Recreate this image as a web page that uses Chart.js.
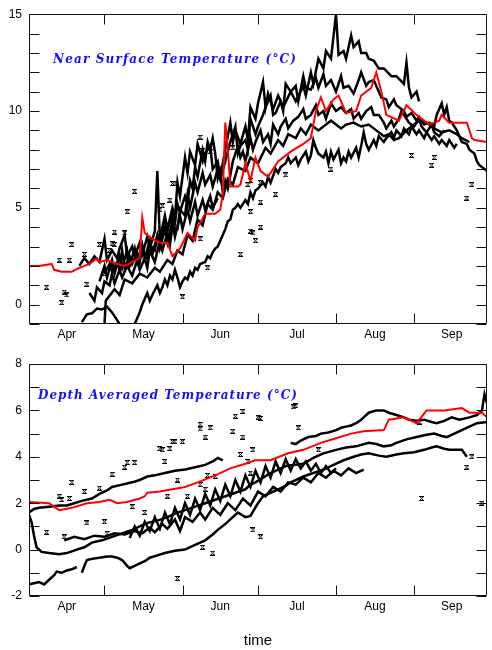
<!DOCTYPE html>
<html><head><meta charset="utf-8">
<script src="https://cdn.jsdelivr.net/npm/chart.js@4"></script>
<style>
html,body{margin:0;padding:0;background:#fff;}
#wrap{position:relative;width:492px;height:650px;overflow:hidden;}
canvas{position:absolute;left:0;}
#c1{top:0;}
#c2{top:345px;}
</style></head><body>
<div id="wrap"><canvas id="c1" width="492" height="345"></canvas><canvas id="c2" width="492" height="305"></canvas></div>
<script>
// ---- axis categories / ticks ----
const monthLabels = ['Apr','May','Jun','Jul','Aug','Sep'];
const monthMid = [15,45.5,76,106.5,137.5,168];      // day of season (0 = Apr 1)
const monthStart = [30,61,91,122,153];
const surfTicks = [0,5,10,15];
const depthTicks = [-2,0,2,4,6,8];

// ---- Near surface temperature: [day, degC] ----
const surfRed = [[0,2.0],[4,2.0],[9,2.1],[10,1.8],[13,1.7],[17,1.7],[20,1.9],[24,2.1],[27,2.4],[28,2.2],[31,2.3],[35,2.1],[38,2.0],[41,2.2],[44,2.4],[45,4.5],[46,3.7],[49,3.4],[52,3.2],[55,3.2],[57,2.5],[60,2.9],[63,3.7],[66,3.3],[67,4.0],[70,4.7],[74,4.7],[76,4.9],[77,5.7],[78,9.4],[79,8.1],[80,6.1],[83,6.1],[84,6.2],[86,7.3],[88,6.4],[90,7.6],[92,6.9],[95,6.6],[99,7.4],[104,7.9],[109,8.3],[112,8.6],[114,10.0],[116,10.7],[118,10.0],[121,10.6],[123,10.8],[126,9.9],[130,10.0],[132,10.8],[136,11.2],[138,12.0],[140,11.0],[142,9.8],[147,9.5],[150,10.3],[154,9.8],[159,9.3],[163,9.5],[164,9.8],[167,9.4],[174,9.4],[176,8.6],[177,8.5],[182,8.4]];
const surf1 = [[20,2.0],[22,2.4],[24,2.1],[26,2.5],[28,2.2],[30,3.4],[31,2.3],[33,2.8],[35,2.4],[36,2.9],[38,3.6],[39,2.5],[41,3.0],[42,2.5],[44,3.2],[45,2.6],[47,3.5],[48,2.9],[50,3.8],[51,6.9],[52,3.4],[54,4.6],[55,3.9],[57,5.0],[58,4.5],[59,6.3],[60,5.6],[62,7.6],[63,6.8],[64,7.9],[66,7.2],[67,8.3],[69,7.4],[70,7.8],[72,8.2],[73,7.0],[75,7.4],[76,6.6],[78,8.0],[80,9.4],[81,8.4],[82,9.0],[84,8.3],[86,9.2],[87,8.5],[88,10.2],[90,9.6],[91,10.4],[93,11.5],[94,10.2],[95,10.9],[97,10.1],[99,10.8],[101,10.2],[104,11.0],[106,10.5],[109,11.3],[110,10.8],[112,12.0],[113,11.4],[115,12.7],[117,12.2],[118,13.1],[120,12.7],[122,15.0],[123,12.9],[125,13.1],[126,12.7],[128,13.9],[129,13.3],[131,13.6],[132,13.0],[134,13.0],[135,12.7],[137,12.6],[139,12.2],[141,12.2],[144,11.8],[146,11.8],[149,11.4],[150,12.5],[151,11.2],[152,10.7],[154,11.0],[155,10.5]];
const surf2 = [[24,0.6],[26,0.2],[27,0.9],[29,0.6],[30,1.2],[32,1.0],[33,1.6],[34,1.1],[36,1.8],[37,1.4],[39,2.0],[41,1.5],[43,2.3],[44,1.8],[46,2.4],[47,1.9],[48,2.8],[50,2.2],[52,3.3],[53,2.8],[55,3.7],[56,3.1],[57,4.0],[59,3.9],[60,4.9],[62,4.6],[63,5.7],[64,5.0],[66,6.3],[67,5.8],[69,6.8],[70,6.2],[72,6.7],[73,6.1],[75,7.0],[76,6.5],[78,7.4],[80,8.4],[82,9.2],[83,7.8],[84,8.2],[86,8.5],[87,8.0],[88,9.6],[90,8.8],[91,9.2],[93,9.8],[94,10.2],[96,10.8],[97,9.8],[98,9.9],[100,10.5],[101,10.0],[102,11.4],[104,11.0],[106,11.3],[107,10.5],[109,11.8],[110,11.2],[112,11.1],[114,11.7],[115,11.2],[117,11.9],[118,11.3],[120,11.6],[122,11.0],[124,11.8],[125,11.2],[127,11.3],[129,10.9],[131,11.6],[132,12.0],[134,11.3],[135,11.5],[137,11.6],[139,11.0],[140,10.7],[142,10.6],[143,10.2],[145,10.6],[146,10.3],[149,10.0],[150,9.7],[152,9.9],[154,9.5],[155,9.7],[157,9.3],[159,9.4],[161,9.2],[162,9.8],[164,10.4],[165,9.8],[166,10.2],[167,9.5],[168,9.4],[170,9.0],[171,8.7],[172,8.4],[174,8.3],[175,8.0],[177,7.8],[178,7.4],[179,7.2],[181,7.0],[182,6.9]];
const surf3 = [[30,1.6],[32,2.1],[33,1.7],[35,2.2],[36,1.8],[37,2.8],[38,1.9],[40,2.5],[41,2.1],[43,2.7],[44,2.2],[45,2.9],[47,2.4],[48,3.1],[50,2.8],[51,3.5],[52,3.1],[54,4.2],[55,3.8],[57,4.7],[58,4.2],[59,5.2],[60,4.8],[62,5.6],[63,5.2],[64,6.4],[65,6.0],[66,7.1],[67,6.6],[69,8.0],[70,7.4],[71,8.4],[72,8.0],[73,8.6],[74,7.8],[75,6.5],[76,6.9],[77,5.8],[78,6.4],[79,6.0],[80,6.7],[81,7.4],[83,8.2],[84,7.6],[85,7.9],[86,7.4],[88,8.6],[89,8.0],[90,8.4],[92,9.0],[93,8.4],[95,8.8],[96,8.3],[97,9.3],[99,8.8],[100,9.2],[102,9.6],[103,9.1],[105,9.5],[107,9.7],[109,10.1],[110,9.6],[112,9.8],[114,10.3],[115,9.8],[117,10.0],[118,9.6],[120,10.4],[122,10.0],[124,10.2],[126,9.9],[128,10.1],[129,9.6],[131,9.9],[132,9.6],[134,10.0],[136,10.2],[137,9.8],[139,9.8],[141,9.4],[142,9.1],[144,9.5],[145,9.2],[147,9.6],[148,10.0],[150,9.6],[151,9.4],[153,9.2],[155,9.6],[156,9.2],[158,8.9],[160,9.3],[161,8.9],[163,8.7],[165,9.0]];
const surf4 = [[30,-1.0],[30.5,0.2],[34,0.8],[36,0.5],[38,1.3],[41,1.1],[44,1.6],[47,1.4],[50,1.9],[52,1.7],[55,2.3],[57,2.1],[59,2.8],[61,2.6],[63,3.6],[65,3.3],[67,4.4],[69,4.1],[71,5.2],[73,4.9],[75,5.8],[77,5.5],[79,6.5],[81,6.2],[83,7.1],[86,6.9],[88,7.6],[91,7.3],[94,8.1],[96,7.8],[99,8.5],[101,8.2],[103,8.8],[106,8.6],[108,9.1],[110,8.8],[112,9.3],[115,9.0],[118,9.3],[120,9.5],[122,9.3],[124,9.1],[126,9.3],[129,9.4],[132,9.2],[135,9.3],[138,9.0],[141,8.7],[143,8.8],[145,8.5],[147,8.6],[150,9.0],[152,9.2],[155,9.5],[158,9.4],[161,9.1],[164,8.9],[167,9.0],[170,8.8],[172,8.6],[175,8.4]];
const surf5 = [[42,-1.0],[44,-0.4],[45,0.0],[46,0.3],[47,0.6],[48,0.2],[49,0.5],[51,1.0],[52,0.6],[53,0.9],[54,1.3],[55,1.0],[56,1.5],[57,1.3],[58,1.8],[59,1.4],[60,0.9],[61,1.2],[62,1.4],[63,1.3],[64,1.7],[65,1.5],[66,1.9],[67,1.8],[68,2.1],[70,2.2],[71,2.5],[72,2.4],[73,2.7],[74,2.9],[75,3.0],[76,3.3],[77,3.6],[78,3.9],[79,4.3],[80,4.4],[81,4.9],[82,5.0],[83,5.2],[84,5.0],[86,5.4],[87,5.2],[88,5.8],[89,5.5],[90,5.9],[91,6.0],[93,6.3],[94,6.1],[95,6.6],[96,6.3],[98,7.0],[99,6.8],[100,7.1],[102,7.3],[103,7.6],[104,7.3],[106,7.6],[107,7.2],[108,7.5],[110,7.9],[111,7.4],[112,7.7],[113,8.5],[114,8.1],[115,7.8],[117,7.6],[118,7.9],[119,7.3],[120,7.9],[121,7.5],[123,8.0],[124,7.3],[125,7.6],[126,7.4],[127,7.9],[128,7.6],[130,8.1],[131,7.6],[132,8.2],[133,8.9],[134,8.3],[135,8.0],[137,8.5],[138,8.2],[139,8.7],[141,8.4],[142,8.6],[144,8.9],[145,8.6],[146,9.0],[148,8.7],[149,9.1],[151,8.8],[152,9.2],[154,8.8],[155,9.0],[157,8.6],[158,8.9],[160,8.5],[161,8.7],[163,8.3],[164,8.5],[166,8.2],[167,8.5],[169,8.1],[170,8.3]];
const surf6 = [[21,-0.9],[23,-0.5],[25,-0.45],[27,-0.2],[29,-0.25],[31,-0.1],[33,-0.4],[35,-0.8],[37,-1.2]];
const surf7 = [[28,1.2],[30,2.0],[31,1.4],[33,2.3],[34,1.6],[36,2.5],[37,1.9],[39,2.8],[40,2.0],[42,2.9],[43,2.2],[45,3.1],[46,2.4],[48,3.3],[49,2.6],[51,3.6],[52,2.9],[54,3.9],[55,3.2],[57,4.3],[58,3.5],[60,4.6],[61,3.9],[63,4.9],[64,4.3],[66,5.3],[67,4.6],[69,5.4],[70,4.9],[72,5.6],[73,5.0],[75,5.5]];
const surfObs = [[7,0.9],[12,2.3],[13,0.1],[14,0.65],[15,0.5],[16,2.3],[17,3.1],[22,2.6],[23,1.05],[28,3.1],[30,1.6],[32,2.8],[33,3.15],[34,3.1],[34,3.75],[38,3.7],[39,4.8],[42,5.85],[52,4.9],[53,5.1],[56,5.4],[57,6.25],[58,6.25],[61,0.4],[68,8.65],[68,3.4],[69,7.95],[71,1.9],[72,7.9],[81,8.1],[84,2.6],[87,6.2],[88,4.8],[88,3.8],[88,6.4],[89,3.7],[90,3.3],[92,4.0],[92,6.3],[92,5.3],[98,5.7],[102,6.7],[120,7.0],[152,7.7],[160,7.2],[161,7.6],[174,5.5],[176,6.2]];

// ---- Depth averaged temperature: [day, degC] ----
const depthRed = [[0,2.05],[8,2.0],[10,1.85],[12,1.7],[17,1.8],[23,2.0],[28,2.05],[32,2.15],[35,2.0],[39,2.05],[44,2.2],[46,2.3],[47,2.45],[52,2.5],[57,2.6],[62,2.7],[67,2.9],[74,3.2],[80,3.5],[86,3.7],[90,3.85],[96,3.85],[103,4.15],[109,4.3],[116,4.6],[122,4.8],[128,5.0],[133,5.1],[141,5.15],[143,5.6],[149,5.7],[154,5.45],[158,6.0],[165,6.0],[172,6.1],[175,5.9],[180,5.9],[182,5.7]];
const depth1 = [[0,1.6],[2,1.75],[4,1.8],[8,1.85],[12,1.9],[15,1.9],[18,2.0],[21,2.1],[25,2.2],[28,2.4],[31,2.55],[33,2.7],[37,2.8],[41,2.9],[44,3.0],[47,3.15],[50,3.2],[54,3.3],[58,3.4],[62,3.45],[66,3.55],[70,3.65],[73,3.8],[75,3.95],[77,3.85],[78,null],[104,4.6],[106,4.55],[108,4.7],[111,4.85],[114,4.9],[116,5.0],[119,5.05],[122,5.15],[124,5.25],[126,5.3],[128,5.35],[130,5.45],[132,5.6],[133,5.7],[135,5.9],[138,6.0],[141,6.0],[143,5.9],[146,5.8],[149,5.7],[151,5.6],[154,5.55],[157,5.6],[160,5.5],[162,5.45],[165,5.55],[168,5.7],[171,5.6],[175,5.7],[178,5.8],[180,6.0],[181,6.7],[182,6.3]];
const depth2 = [[0,1.5],[1,1.2],[2,0.6],[3,0.1],[5,-0.1],[8,-0.15],[12,-0.2],[15,-0.15],[19,0.0],[22,0.1],[25,0.3],[29,0.4],[33,0.55],[37,0.7],[41,0.85],[44,1.0],[47,1.15],[51,1.25],[55,1.4],[58,1.55],[62,1.7],[66,1.85],[70,2.0],[74,2.15],[78,2.3],[82,2.45],[86,2.6],[88,2.8],[90,2.9],[93,3.1],[96,3.3],[99,3.45],[102,3.6],[105,3.65],[109,3.7],[113,3.95],[117,4.15],[122,4.3],[126,4.4],[130,4.45],[135,4.6],[138,4.55],[141,4.45],[144,4.5],[146,4.6],[150,4.75],[154,4.85],[158,4.95],[161,5.0],[164,4.9],[166,4.85],[169,5.0],[172,5.15],[175,5.3],[178,5.45],[182,5.5]];
const depth3 = [[0,-1.5],[2,-1.45],[4,-1.4],[6,-1.5],[8,-1.3],[10,-1.1],[11,-0.95],[13,-1.0],[15,-0.9],[17,-0.85],[19,-0.75],[20,null],[21,-1.0],[22,-0.7],[23,-0.45],[25,-0.4],[28,-0.35],[31,-0.3],[33,-0.3],[35,-0.35],[37,-0.45],[39,-0.7],[40,-0.8],[42,-0.7],[43,-0.65],[46,-0.5],[48,-0.35],[51,-0.25],[54,-0.15],[58,-0.05],[62,0.0],[66,0.2],[70,0.4],[73,0.65],[75,0.85],[78,1.1],[80,1.3],[83,1.6],[86,1.4],[88,1.45],[91,2.0],[93,2.3],[96,2.45],[99,2.6],[102,2.75],[104,2.9],[107,3.05],[109,3.15],[113,3.3],[117,3.45],[121,3.65],[125,3.85],[129,4.0],[132,4.1],[135,4.15],[139,4.05],[142,4.0],[146,4.1],[149,4.15],[153,4.2],[157,4.3],[160,4.4],[162,4.45],[165,4.35],[167,4.3],[170,4.3],[172,4.3],[174,4.0]];
const depth4 = [[14,0.4],[18,0.55],[22,0.45],[26,0.6],[30,0.55],[34,0.7],[38,0.65],[42,0.8],[45,0.7],[48,0.95],[50,0.75],[53,1.1],[55,0.9],[58,1.3],[60,0.8],[62,1.4],[65,1.2],[68,1.6],[70,1.3],[73,1.8],[76,1.5],[79,2.0],[82,1.7],[85,2.2],[88,1.9],[91,2.5],[94,2.3],[97,2.7],[100,2.5],[103,2.9],[106,2.8],[109,3.1],[112,2.9],[115,3.3],[118,3.1],[121,3.4],[124,3.2],[127,3.5],[130,3.3],[133,3.45]];
const depth5 = [[40,0.5],[42,1.0],[44,0.6],[46,1.2],[48,0.8],[50,1.4],[52,0.9],[54,1.6],[56,1.1],[58,1.8],[60,1.3],[62,2.0],[64,1.5],[66,2.2],[68,1.7],[70,2.4],[72,1.9],[74,2.6],[76,2.1],[78,2.8],[80,2.3],[82,3.0],[84,2.5],[86,3.2],[88,2.7],[90,3.4],[92,2.9],[94,3.6],[96,3.1],[98,3.8],[100,3.3],[102,3.9],[104,3.4],[106,3.9],[108,3.5],[110,3.8],[112,3.4],[114,3.7],[116,3.3],[118,3.6],[120,3.3],[122,3.5]];
const depthObs = [[7,0.75],[12,2.3],[13,2.15],[16,2.2],[17,2.9],[14,0.55],[22,2.5],[23,1.15],[28,2.65],[30,1.2],[31,0.7],[33,3.25],[38,3.55],[39,3.75],[42,3.75],[41,1.85],[46,1.6],[52,4.35],[53,4.3],[56,4.35],[57,4.65],[58,4.65],[61,4.65],[54,3.8],[55,2.3],[59,3.0],[59,-1.25],[63,2.3],[68,5.4],[68,5.2],[72,5.25],[70,4.85],[68,2.8],[70,2.6],[71,3.2],[74,3.15],[69,0.1],[73,-0.15],[81,5.1],[82,5.75],[85,5.95],[85,4.85],[84,4.1],[89,4.3],[91,5.7],[92,5.65],[87,3.8],[88,3.3],[89,0.85],[92,0.55],[105,6.15],[106,6.2],[107,5.25],[115,4.3],[155,5.5],[156,2.2],[174,3.55],[176,4.0],[180,2.0]];

// ---- helpers ----
const xy = a => a.map(([x, y]) => ({x, y}));
function makeMarker() {
  const c = document.createElement('canvas');
  c.width = 5; c.height = 5;
  const g = c.getContext('2d');
  g.fillStyle = '#000';
  const rows = ['#####', '.#.#.', '..#..', '.#.#.', '#####'];
  rows.forEach((r, j) => { for (let i = 0; i < 5; i++) if (r[i] === '#') g.fillRect(i, j, 1, 1); });
  return c;
}
const marker = makeMarker();

const framePlugin = {
  id: 'frame',
  afterDatasetsDraw(chart, args, opts) {
    const {ctx, chartArea: {left, right, top, bottom}, scales: {x, y}} = chart;
    ctx.save();
    ctx.strokeStyle = '#111';
    ctx.lineWidth = 1;
    const L = Math.round(left) + 0.5, R = Math.round(right) - 0.5, T = Math.round(top) + 0.5, B = Math.round(bottom) - 0.5;
    ctx.beginPath();
    ctx.rect(L, T, R - L, B - T);
    const len = 10;
    monthStart.forEach(v => {
      const px = Math.round(x.getPixelForValue(v)) + 0.5;
      ctx.moveTo(px, T); ctx.lineTo(px, T + len);
      ctx.moveTo(px, B); ctx.lineTo(px, B - len);
    });
    for (let v = y.min; v <= y.max; v += 1) {
      const py = Math.round(y.getPixelForValue(v)) + 0.5;
      ctx.moveTo(L, py); ctx.lineTo(L + len, py);
      ctx.moveTo(R, py); ctx.lineTo(R - len, py);
    }
    ctx.stroke();
    // in-plot title
    ctx.font = 'italic bold 12px "DejaVu Serif"';
    ctx.fillStyle = '#1010ff';
    ctx.textBaseline = 'middle';
    ctx.textAlign = 'left';
    ctx.letterSpacing = '0px';
    const w = ctx.measureText(opts.text).width;
    const ls = (opts.width - w) / (opts.text.length - 1);
    ctx.letterSpacing = ls.toFixed(2) + 'px';
    ctx.fillText(opts.text, left + opts.dx, top + opts.dy);
    ctx.restore();
  }
};

const tickFont = {family: '"Liberation Sans", Arial, sans-serif', size: 12};
function lineSet(arr, color, width, order) {
  return {data: xy(arr), borderColor: color, borderWidth: width, pointRadius: 0, fill: false, order, spanGaps: false};
}
function obsSet(arr) {
  return {data: xy(arr), showLine: false, pointStyle: marker, pointRadius: 3, order: 2, borderColor: '#000', backgroundColor: '#000'};
}
function makeOptions(yMin, yMax, yTicks, padTop, xHeight, title, withTimeTitle) {
  return {
    responsive: false, animation: false, devicePixelRatio: 1,
    layout: {padding: {top: padTop, right: 1, left: 0, bottom: 0}},
    plugins: {legend: {display: false}, tooltip: {enabled: false}, frame: title},
    scales: {
      x: {
        type: 'linear', min: 0, max: 182,
        grid: {display: false, drawTicks: false}, border: {display: false},
        afterBuildTicks: s => { s.ticks = monthMid.map(v => ({value: v})); },
        afterFit: s => { s.height = xHeight; },
        ticks: {autoSkip: false, maxRotation: 0, padding: 3, color: '#000', font: tickFont,
                callback: (v, i) => monthLabels[i]},
        title: withTimeTitle ? {display: true, text: 'time', color: '#000',
                font: {family: '"Liberation Sans", Arial, sans-serif', size: 15},
                padding: {top: 0, bottom: 0}} : {display: false}
      },
      y: {
        min: yMin, max: yMax,
        grid: {display: false, drawTicks: false}, border: {display: false},
        afterBuildTicks: s => { s.ticks = yTicks.map(v => ({value: v})); },
        afterFit: s => { s.width = 29; },
        ticks: {padding: 7, color: '#000', font: tickFont, callback: v => String(v)}
      }
    }
  };
}

const BW = 2.5;
new Chart(document.getElementById('c1'), {
  type: 'line',
  data: {datasets: [
    lineSet(surfRed, '#ff0000', 2, 0),
    lineSet(surf1, '#000', BW, 1),
    lineSet(surf2, '#000', BW, 1),
    lineSet(surf3, '#000', BW, 1),
    lineSet(surf4, '#000', BW, 1),
    lineSet(surf5, '#000', BW, 1),
    lineSet(surf6, '#000', BW, 1),
    lineSet(surf7, '#000', BW, 1),
    obsSet(surfObs)
  ]},
  options: makeOptions(-1, 15, surfTicks, 14, 21,
    {text: 'Near Surface Temperature (°C)', dx: 24, dy: 46, width: 243}, false),
  plugins: [framePlugin]
});

new Chart(document.getElementById('c2'), {
  type: 'line',
  data: {datasets: [
    lineSet(depthRed, '#ff0000', 2, 0),
    lineSet(depth1, '#000', BW, 1),
    lineSet(depth2, '#000', BW, 1),
    lineSet(depth3, '#000', BW, 1),
    lineSet(depth4, '#000', BW, 1),
    lineSet(depth5, '#000', BW, 1),
    obsSet(depthObs)
  ]},
  options: makeOptions(-2, 8, depthTicks, 19, 54,
    {text: 'Depth Averaged Temperature (°C)', dx: 9, dy: 32, width: 259}, true),
  plugins: [framePlugin]
});
</script>
</body></html>
